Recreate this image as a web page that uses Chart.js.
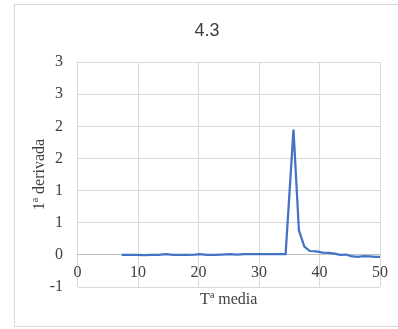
<!DOCTYPE html>
<html>
<head>
<meta charset="utf-8">
<script src="https://cdn.jsdelivr.net/npm/chart.js@4/dist/chart.umd.min.js"></script>
<style>
  body { margin: 0; background: #fff; }
  #wrap { width: 398px; height: 329px; position: relative; }
</style>
</head>
<body>
<div id="wrap"><canvas id="myChart" width="398" height="329"></canvas></div>
<script>
// temperature (x) and first derivative (y)
const temps = [7.3, 8.5, 9.7, 11, 12.2, 13.4, 14.6, 15.8, 17, 18.2, 19.4, 20.2, 21.4, 22.6,
  23.8, 25.2, 26.4, 27.6, 28.8, 30, 31.2, 32.4, 33.6, 34.4, 35.7, 36.6, 37.5, 38.4, 39.5,
  40.5, 41.6, 42.5, 43.4, 44.4, 45.2, 46.3, 47.3, 48.3, 49.3, 50];
const deriv = [0, 0, 0, -0.005, 0, 0, 0.012, 0, 0, 0, 0.005, 0.012, 0, 0,
  0.005, 0.012, 0.003, 0.01, 0.012, 0.012, 0.012, 0.012, 0.012, 0.012, 1.95, 0.38, 0.13, 0.06, 0.055,
  0.035, 0.03, 0.02, 0, 0.005, -0.02, -0.03, -0.02, -0.025, -0.03, -0.03];
const xTicks = [0, 10, 20, 30, 40, 50];
const yTicks = [-0.5, 0, 0.5, 1, 1.5, 2, 2.5, 3];

const points = temps.map((t, i) => ({ x: t, y: deriv[i] }));

// outer frame of the chart
const frame = {
  id: "frame",
  beforeDraw(chart) {
    const ctx = chart.ctx;
    ctx.save();
    ctx.fillStyle = "#fff";
    ctx.fillRect(0, 0, chart.width, chart.height);
    ctx.strokeStyle = "#d9d9d9";
    ctx.lineWidth = 1;
    ctx.strokeRect(14.5, 4.5, 400, 322);
    ctx.restore();
  },
};

// excel style rounding: half away from zero
const roundLabel = (v) => String(Math.sign(v) * Math.round(Math.abs(v)));

const serif = (size) => ({ family: "Liberation Serif", size: size });

new Chart("myChart", {
  type: "line",
  data: {
    datasets: [{
      data: points,
      borderColor: "#4472C4",
      borderWidth: 2.25,
      pointRadius: 0,
      tension: 0,
      fill: false,
    }],
  },
  options: {
    responsive: false,
    animation: false,
    layout: { padding: { left: 16, right: 0, top: 0, bottom: 42 } },
    plugins: {
      legend: { display: false },
      tooltip: { enabled: false },
      title: {
        display: true,
        text: "4.3",
        color: "#404040",
        font: { family: "Liberation Sans", size: 18, weight: "normal" },
        padding: { top: 20, bottom: 20.5 },
      },
    },
    scales: {
      x: {
        type: "linear",
        min: 0,
        max: 50,
        position: { y: 0 },
        afterBuildTicks: (axis) => { axis.ticks = xTicks.map((v) => ({ value: v })); },
        grid: { color: "#d9d9d9", drawTicks: false },
        border: { display: true, color: "#bfbfbf" },
        ticks: {
          color: "#404040",
          padding: 8,
          maxRotation: 0,
          autoSkip: false,
          font: serif(16),
        },
        title: {
          display: true,
          text: "Tª media",
          color: "#404040",
          font: serif(16),
          padding: { top: 0, bottom: 0 },
        },
      },
      y: {
        min: -0.5,
        max: 3,
        afterBuildTicks: (axis) => { axis.ticks = yTicks.map((v) => ({ value: v })); },
        afterFit: (axis) => { axis.width = 61.5; },
        grid: { color: "#d9d9d9", drawTicks: false },
        border: { display: false },
        ticks: {
          color: "#404040",
          padding: 14.5,
          font: serif(16),
          callback: (v) => roundLabel(v),
        },
        title: {
          display: true,
          text: "1ª derivada",
          color: "#404040",
          font: serif(16),
          padding: { top: 14.4, bottom: 0 },
        },
      },
      // empty right-hand axis that keeps the plot off the right edge
      yRight: {
        position: "right",
        display: true,
        grid: { display: false },
        border: { display: false },
        ticks: { display: false },
        afterFit: (axis) => { axis.width = 18; },
      },
    },
  },
  plugins: [frame],
});
</script>
</body>
</html>
